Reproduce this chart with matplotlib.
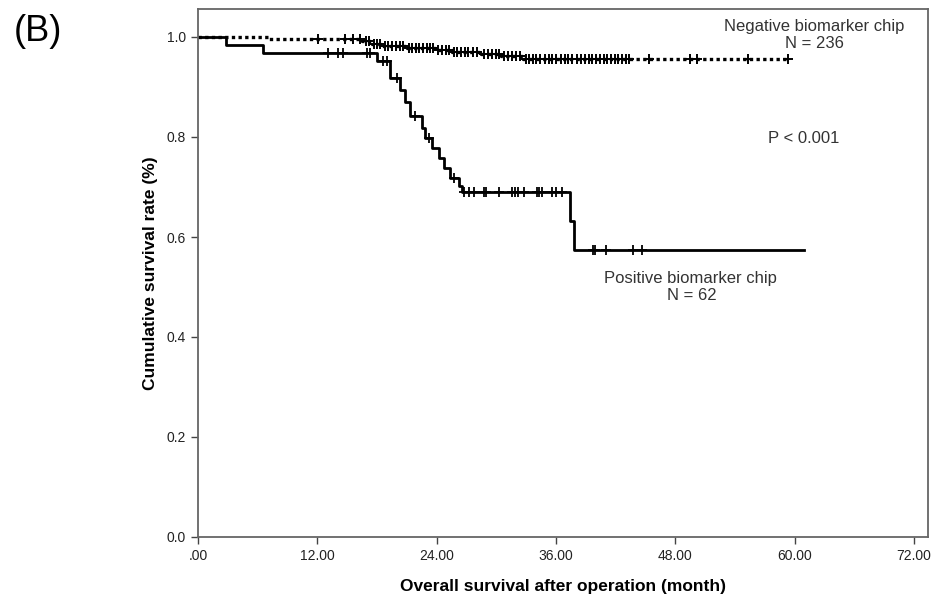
import matplotlib.pyplot as plt
import numpy as np

# positive biomarker chip (N = 62): event times (month) and survival after each step
pos_times = [0, 2.8, 6.5, 18.0, 19.3, 20.3, 20.8, 21.3, 22.5, 22.8, 23.5, 24.2,
             24.7, 25.3, 26.3, 26.6, 37.4, 37.8, 61.0]
pos_surv = [1.0, 0.984, 0.968, 0.952, 0.918, 0.894, 0.871, 0.842, 0.818, 0.798,
            0.778, 0.758, 0.738, 0.718, 0.702, 0.690, 0.632, 0.575, 0.575]
pos_censor = [13.1, 14.1, 14.6, 17.0, 17.3, 18.6, 19.0, 20.0, 21.8, 23.2, 25.8,
              26.8, 27.3, 27.8, 28.8, 29.0, 30.3, 31.6, 31.9, 32.2, 32.8, 34.1,
              34.3, 34.6, 35.6, 36.0, 36.6, 39.7, 39.9, 41.0, 43.8, 44.7]

# negative biomarker chip (N = 236)
neg_times = [0, 7.0, 16.5, 17.5, 18.5, 21.0, 23.8, 25.5, 28.5, 30.5, 32.7, 59.3]
neg_surv = [1.0, 0.996, 0.992, 0.987, 0.983, 0.979, 0.975, 0.970, 0.966, 0.962,
            0.957, 0.957]
neg_censor = [12.1, 14.8, 15.6, 16.3, 16.9, 17.2, 17.7, 18.0, 18.3, 18.8, 19.1,
              19.5, 19.9, 20.3, 20.6, 21.2, 21.5, 21.9, 22.2, 22.6, 23.0, 23.3,
              23.6, 24.1, 24.5, 24.9, 25.2, 25.8, 26.1, 26.5, 26.9, 27.2, 27.7,
              28.1, 28.8, 29.2, 29.6, 30.0, 30.3, 30.8, 31.2, 31.6, 32.0, 32.4,
              33.0, 33.3, 33.7, 34.0, 34.4, 34.9, 35.3, 35.6, 36.0, 36.5, 36.9,
              37.2, 37.6, 38.1, 38.5, 38.9, 39.3, 39.6, 40.0, 40.4, 40.8, 41.1,
              41.5, 41.9, 42.2, 42.6, 43.0, 43.4, 45.4, 49.5, 50.2, 55.3, 59.3]

xticks = [0, 12, 24, 36, 48, 60, 72]
xtick_labels = ['.00', '12.00', '24.00', '36.00', '48.00', '60.00', '72.00']
yticks = [0.0, 0.2, 0.4, 0.6, 0.8, 1.0]
ytick_labels = ['0.0', '0.2', '0.4', '0.6', '0.8', '1.0']

plt.rcParams['font.family'] = ['Liberation Sans', 'DejaVu Sans']


def surv_at(times, surv, t):
    idx = np.searchsorted(times, t, side='right') - 1
    return np.array(surv)[idx]


fig = plt.figure(figsize=(9.4, 6.0), dpi=100)
ax = fig.add_axes([0.2106, 0.105, 0.987 - 0.2106, 0.985 - 0.105])

# curves
ax.step(pos_times, pos_surv, where='post', color='black', lw=2.0)
ax.step(neg_times, neg_surv, where='post', color='black', lw=2.4,
        linestyle=(0, (1, 1.0)))

ax.plot(pos_censor, surv_at(pos_times, pos_surv, pos_censor), '+',
        color='black', ms=6.5, mew=1.3)
ax.plot(neg_censor, surv_at(neg_times, neg_surv, neg_censor), '+',
        color='black', ms=6.5, mew=1.4)

ax.set_xlim(0, 73.4)
ax.set_ylim(0, 1.056)
ax.set_xticks(xticks)
ax.set_xticklabels(xtick_labels, family=['Liberation Sans Narrow', 'Liberation Sans'])
ax.set_yticks(yticks)
ax.set_yticklabels(ytick_labels)
ax.tick_params(direction='out', length=5, width=1.0, color='#444444',
               labelsize=10, labelcolor='#222222')
ax.tick_params(axis='x', pad=4)

for sp in ax.spines.values():
    sp.set_color('#666666')
    sp.set_linewidth(1.3)

ax.set_xlabel('Overall survival after operation (month)', fontsize=12.5,
              fontweight='bold', labelpad=11)
ax.set_ylabel('Cumulative survival rate (%)', fontsize=12.5,
              fontweight='bold', labelpad=6)

txt = dict(fontsize=12, color='#333333', ha='center', va='center')
ax.text(0.845, 0.967, 'Negative biomarker chip', transform=ax.transAxes, **txt)
ax.text(0.845, 0.935, 'N = 236', transform=ax.transAxes, **txt)
ax.text(0.830, 0.754, 'P < 0.001', transform=ax.transAxes, **txt)
ax.text(0.675, 0.490, 'Positive biomarker chip', transform=ax.transAxes, **txt)
ax.text(0.677, 0.458, 'N = 62', transform=ax.transAxes, **txt)

fig.text(0.040, 0.948, '(B)', fontsize=26, ha='center', va='center')

fig.savefig('out.png', dpi=100)
